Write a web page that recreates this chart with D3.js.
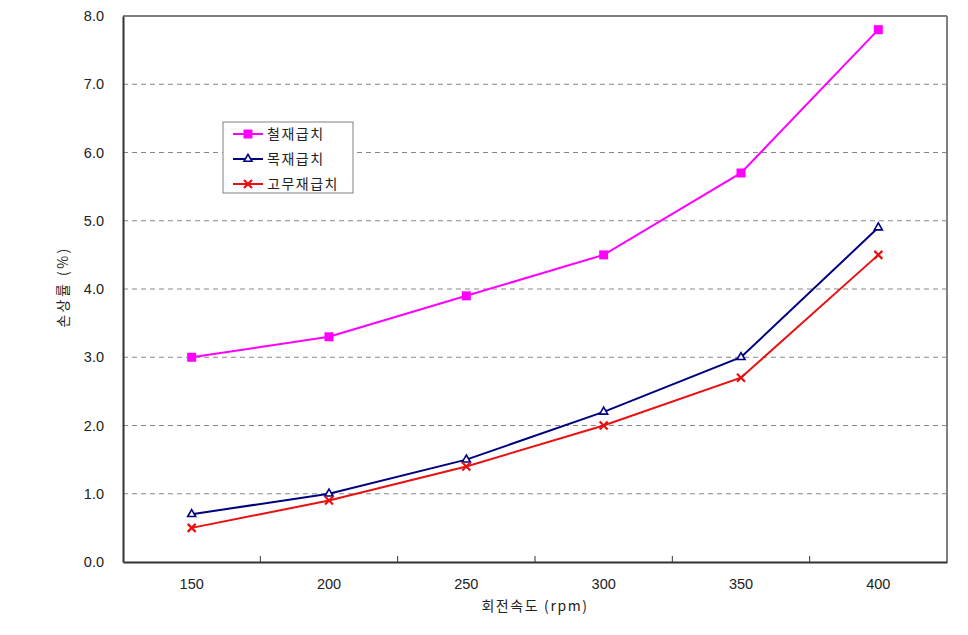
<!DOCTYPE html>
<html><head><meta charset="utf-8">
<script src="https://cdn.jsdelivr.net/npm/d3@7"></script>
<style>body{margin:0;background:#fff}</style>
</head><body>
<svg id="c" width="968" height="635"></svg>
<script>
const categories = [150, 200, 250, 300, 350, 400];
const steel = [3.0, 3.3, 3.9, 4.5, 5.7, 7.8];
const wood = [0.7, 1.0, 1.5, 2.2, 3.0, 4.9];
const rubber = [0.5, 0.9, 1.4, 2.0, 2.7, 4.5];
const seriesNames = ["철재급치", "목재급치", "고무재급치"];
const yTicks = [0, 1, 2, 3, 4, 5, 6, 7, 8];

const svg = d3.select("#c");
const L = 123, R = 947, T = 16, B = 562;
const x = d3.scaleBand().domain(categories).range([L, R]);
const y = d3.scaleLinear().domain([0, 8]).range([B, T]);
const numFont = "'Liberation Sans', Arial, sans-serif";
const korFont = "'Noto Sans CJK KR', sans-serif";

// gridlines
svg.append("g").selectAll("line").data(yTicks.filter(d => d > 0 && d < 8)).join("line")
  .attr("x1", L).attr("x2", R).attr("y1", d => y(d)).attr("y2", d => y(d))
  .attr("stroke", "#888").attr("stroke-width", 1).attr("stroke-dasharray", "5,4");

// border top/right
svg.append("line").attr("x1", L).attr("x2", R).attr("y1", T).attr("y2", T).attr("stroke", "#808080").attr("stroke-width", 2);
svg.append("line").attr("x1", R).attr("x2", R).attr("y1", T).attr("y2", B).attr("stroke", "#808080").attr("stroke-width", 2);

// y axis
const yAxis = svg.append("g").attr("transform", `translate(${L},0)`)
  .call(d3.axisLeft(y).tickValues(yTicks).tickFormat(d3.format(".1f")).tickSize(0).tickPadding(19));
yAxis.select(".domain").attr("stroke", "#333").attr("stroke-width", 2);
yAxis.selectAll("text").attr("font-family", numFont).attr("font-size", 14.5).attr("fill", "#222");

// x axis
const xAxis = svg.append("g").attr("transform", `translate(0,${B})`)
  .call(d3.axisBottom(x).tickSize(0).tickPadding(17));
xAxis.select(".domain").attr("stroke", "#333").attr("stroke-width", 2);
xAxis.selectAll("text").attr("font-family", numFont).attr("font-size", 14.5).attr("fill", "#222");
// boundary ticks (inside)
const bounds = categories.slice(1).map(c => x(c));
svg.append("g").selectAll("line").data(bounds).join("line")
  .attr("x1", d => d).attr("x2", d => d).attr("y1", B).attr("y2", B - 6)
  .attr("stroke", "#333").attr("stroke-width", 1);

// axis titles
svg.append("text").attr("x", 535).attr("y", 611).attr("text-anchor", "middle")
  .attr("font-family", korFont).attr("font-size", 14).attr("letter-spacing", 1.6).attr("fill", "#222").text("회전속도 (rpm)");
svg.append("text").attr("transform", "translate(68,287) rotate(-90)").attr("text-anchor", "middle")
  .attr("font-family", korFont).attr("font-size", 14).attr("letter-spacing", 2.5).attr("fill", "#222").text("손상률 (%)");

const cx = d => x(d) + x.bandwidth() / 2;
const data = [
  {name: seriesNames[0], vals: steel, color: "#FF00FF", marker: "square"},
  {name: seriesNames[1], vals: wood, color: "#000080", marker: "triangle"},
  {name: seriesNames[2], vals: rubber, color: "#E81010", marker: "cross"}
];
const line = d3.line().x((d, i) => cx(categories[i])).y(d => y(d));

function drawMarker(g, px, py, s) {
  if (s.marker === "square") {
    g.append("rect").attr("x", px - 4.5).attr("y", py - 4.5).attr("width", 9).attr("height", 9).attr("fill", s.color);
  } else if (s.marker === "triangle") {
    g.append("path").attr("d", d3.symbol(d3.symbolTriangle, 28)()).attr("transform", `translate(${px},${py})`)
      .attr("fill", "#fff").attr("stroke", s.color).attr("stroke-width", 1.6);
  } else {
    g.append("path").attr("d", `M${px-4},${py-4}L${px+4},${py+4}M${px-4},${py+4}L${px+4},${py-4}`)
      .attr("stroke", s.color).attr("stroke-width", 2.2);
  }
}

data.forEach(s => {
  const g = svg.append("g");
  g.append("path").datum(s.vals).attr("d", line).attr("fill", "none").attr("stroke", s.color).attr("stroke-width", 2);
  s.vals.forEach((v, i) => drawMarker(g, cx(categories[i]), y(v), s));
});

// legend
const lg = svg.append("g");
lg.append("rect").attr("x", 223).attr("y", 122).attr("width", 130).attr("height", 71)
  .attr("fill", "#fff").attr("stroke", "#808080").attr("stroke-width", 1);
data.forEach((s, i) => {
  const ly = 134 + i * 25;
  lg.append("line").attr("x1", 233).attr("x2", 263).attr("y1", ly).attr("y2", ly).attr("stroke", s.color).attr("stroke-width", 2);
  drawMarker(lg, 248, ly, s);
  lg.append("text").attr("x", 267).attr("y", ly + 5).attr("font-family", korFont).attr("font-size", 14).attr("letter-spacing", 1.5).attr("fill", "#222").text(s.name);
});
</script>
</body></html>
